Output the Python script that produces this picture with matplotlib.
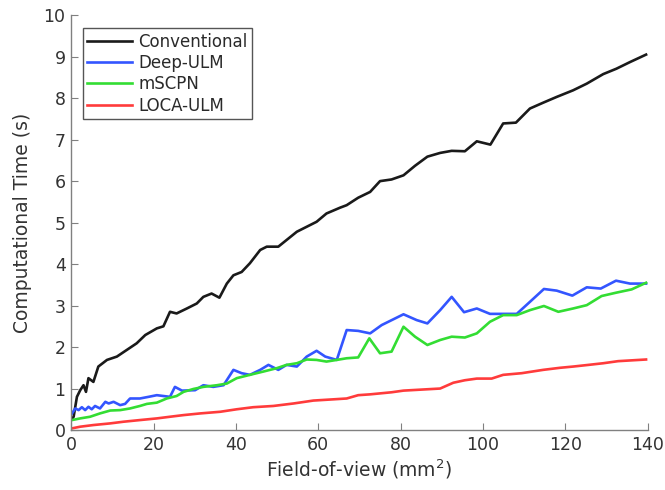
import matplotlib
matplotlib.use("Agg")
from matplotlib import pyplot as plt

# Conventional
conv_x = [0, 0.6, 1.4, 2.2, 3.0, 3.6, 4.2, 5.4, 6.6, 8.7, 11.1, 13.5, 15.9, 18.0, 20.8, 22.4,
          24.0, 25.6, 28.1, 30.5, 32.1, 34.1, 36.0, 37.8, 39.4, 41.4, 43.4, 45.9, 47.5, 50.3,
          52.3, 54.8, 57.2, 59.6, 62.0, 65.3, 66.9, 69.7, 72.6, 75.0, 77.8, 80.7, 83.5, 86.5,
          89.6, 92.4, 95.6, 98.5, 101.8, 104.9, 108.0, 111.4, 114.6, 117.9, 121.9, 125.2,
          129.2, 132.4, 135.7, 139.6]
conv_y = [0.25, 0.32, 0.80, 0.96, 1.08, 0.92, 1.25, 1.16, 1.53, 1.69, 1.77, 1.93, 2.09, 2.29,
          2.45, 2.50, 2.85, 2.81, 2.93, 3.05, 3.21, 3.29, 3.19, 3.53, 3.73, 3.81, 4.02, 4.34,
          4.42, 4.42, 4.58, 4.78, 4.90, 5.02, 5.22, 5.36, 5.42, 5.60, 5.74, 6.00, 6.04, 6.14,
          6.37, 6.59, 6.68, 6.73, 6.72, 6.96, 6.88, 7.39, 7.41, 7.75, 7.89, 8.03, 8.19, 8.35,
          8.58, 8.71, 8.87, 9.05]

# Deep-ULM
deep_x = [0.2, 1.0, 1.8, 2.6, 3.4, 4.2, 5.0, 5.8, 7.0, 8.3, 9.1, 10.3, 11.9, 13.1, 14.3, 16.7,
          18.8, 20.8, 24.0, 25.2, 26.9, 30.1, 32.1, 34.5, 37.0, 39.4, 41.4, 43.4, 45.9, 47.9,
          50.3, 52.3, 54.8, 57.2, 59.6, 61.7, 64.5, 66.9, 69.7, 72.6, 75.4, 80.7, 83.9, 86.5,
          89.6, 92.4, 95.4, 98.5, 101.7, 104.9, 108.2, 111.4, 114.8, 117.9, 121.7, 125.2,
          128.6, 132.3, 135.7, 139.6]
deep_y = [0.40, 0.52, 0.48, 0.55, 0.48, 0.56, 0.50, 0.58, 0.52, 0.68, 0.64, 0.68, 0.60, 0.63,
          0.76, 0.76, 0.80, 0.84, 0.80, 1.04, 0.95, 0.96, 1.08, 1.04, 1.08, 1.45, 1.37, 1.33,
          1.45, 1.57, 1.45, 1.57, 1.53, 1.77, 1.91, 1.77, 1.69, 2.41, 2.39, 2.33, 2.53, 2.79,
          2.65, 2.57, 2.89, 3.21, 2.84, 2.93, 2.80, 2.80, 2.80, 3.09, 3.40, 3.36, 3.24, 3.44,
          3.41, 3.60, 3.53, 3.53]

# mSCPN
mscpn_x = [0.2, 2.2, 4.6, 7.0, 9.5, 11.9, 14.3, 16.7, 18.4, 20.8, 23.2, 25.6, 27.3, 29.7,
           32.1, 35.4, 37.8, 40.2, 43.4, 46.7, 49.9, 52.3, 54.8, 57.2, 59.6, 62.0, 64.5, 66.9,
           69.7, 72.4, 75.0, 77.8, 80.7, 83.5, 86.5, 89.6, 92.4, 95.6, 98.5, 101.7, 104.9,
           108.2, 111.4, 114.8, 118.3, 121.9, 125.2, 128.8, 132.3, 136.1, 139.6]
mscpn_y = [0.24, 0.28, 0.32, 0.40, 0.47, 0.48, 0.52, 0.58, 0.63, 0.66, 0.76, 0.82, 0.92, 0.99,
           1.04, 1.08, 1.12, 1.25, 1.33, 1.41, 1.49, 1.57, 1.61, 1.70, 1.69, 1.65, 1.69, 1.73,
           1.75, 2.21, 1.85, 1.89, 2.49, 2.25, 2.05, 2.17, 2.25, 2.23, 2.33, 2.61, 2.77, 2.77,
           2.89, 2.99, 2.85, 2.93, 3.01, 3.23, 3.31, 3.39, 3.55]

# LOCA-ULM
loca_x = [0.2, 2.2, 5.4, 9.5, 12.7, 16.7, 20.8, 24.0, 27.3, 31.3, 36.2, 40.2, 44.2, 49.1,
          54.0, 58.8, 63.7, 66.9, 69.7, 72.6, 77.8, 80.7, 89.6, 92.8, 95.6, 98.5, 102.1,
          104.9, 109.4, 114.6, 118.7, 121.9, 125.6, 129.2, 132.8, 139.6]
loca_y = [0.04, 0.08, 0.12, 0.16, 0.20, 0.24, 0.28, 0.32, 0.36, 0.40, 0.44, 0.50, 0.55, 0.58,
          0.64, 0.71, 0.74, 0.76, 0.84, 0.86, 0.91, 0.95, 1.00, 1.14, 1.20, 1.24, 1.24, 1.33,
          1.37, 1.45, 1.50, 1.53, 1.57, 1.61, 1.66, 1.70]

fig = plt.figure(figsize=(6.65, 4.9), dpi=100)
ax = fig.add_axes([0.107, 0.1224, 0.867, 0.8466])

lw = 1.9
ax.plot(conv_x, conv_y, color="#1a1a1a", linewidth=lw, label="Conventional")
ax.plot(deep_x, deep_y, color="#3355ff", linewidth=lw, label="Deep-ULM")
ax.plot(mscpn_x, mscpn_y, color="#33dd33", linewidth=lw, label="mSCPN")
ax.plot(loca_x, loca_y, color="#ff3b3b", linewidth=lw, label="LOCA-ULM")

ax.set_xlim(0, 140)
ax.set_ylim(0, 10)
ax.set_xticks(range(0, 141, 20))
ax.set_yticks(range(0, 11))

for s in ["top", "right"]:
    ax.spines[s].set_visible(False)
for s in ["left", "bottom"]:
    ax.spines[s].set_color("#808080")
    ax.spines[s].set_linewidth(1.0)
ax.tick_params(direction="in", length=5, color="#808080", labelsize=12.5,
               labelcolor="#333333", pad=4)

ax.set_xlabel("Field-of-view (mm$^2$)", fontsize=13.5, color="#333333", labelpad=3)
ax.set_ylabel("Computational Time (s)", fontsize=13.5, color="#333333", labelpad=8)

leg = ax.legend(loc="upper left", bbox_to_anchor=(0.021, 0.968), fontsize=12,
                handlelength=2.7, handletextpad=0.35, borderpad=0.25, labelspacing=0.2,
                borderaxespad=0, fancybox=False, framealpha=1, edgecolor="#555555")
leg.get_frame().set_linewidth(1.0)
for t in leg.get_texts():
    t.set_color("#2a2a2a")

fig.savefig("out.png", dpi=100, facecolor="white")
